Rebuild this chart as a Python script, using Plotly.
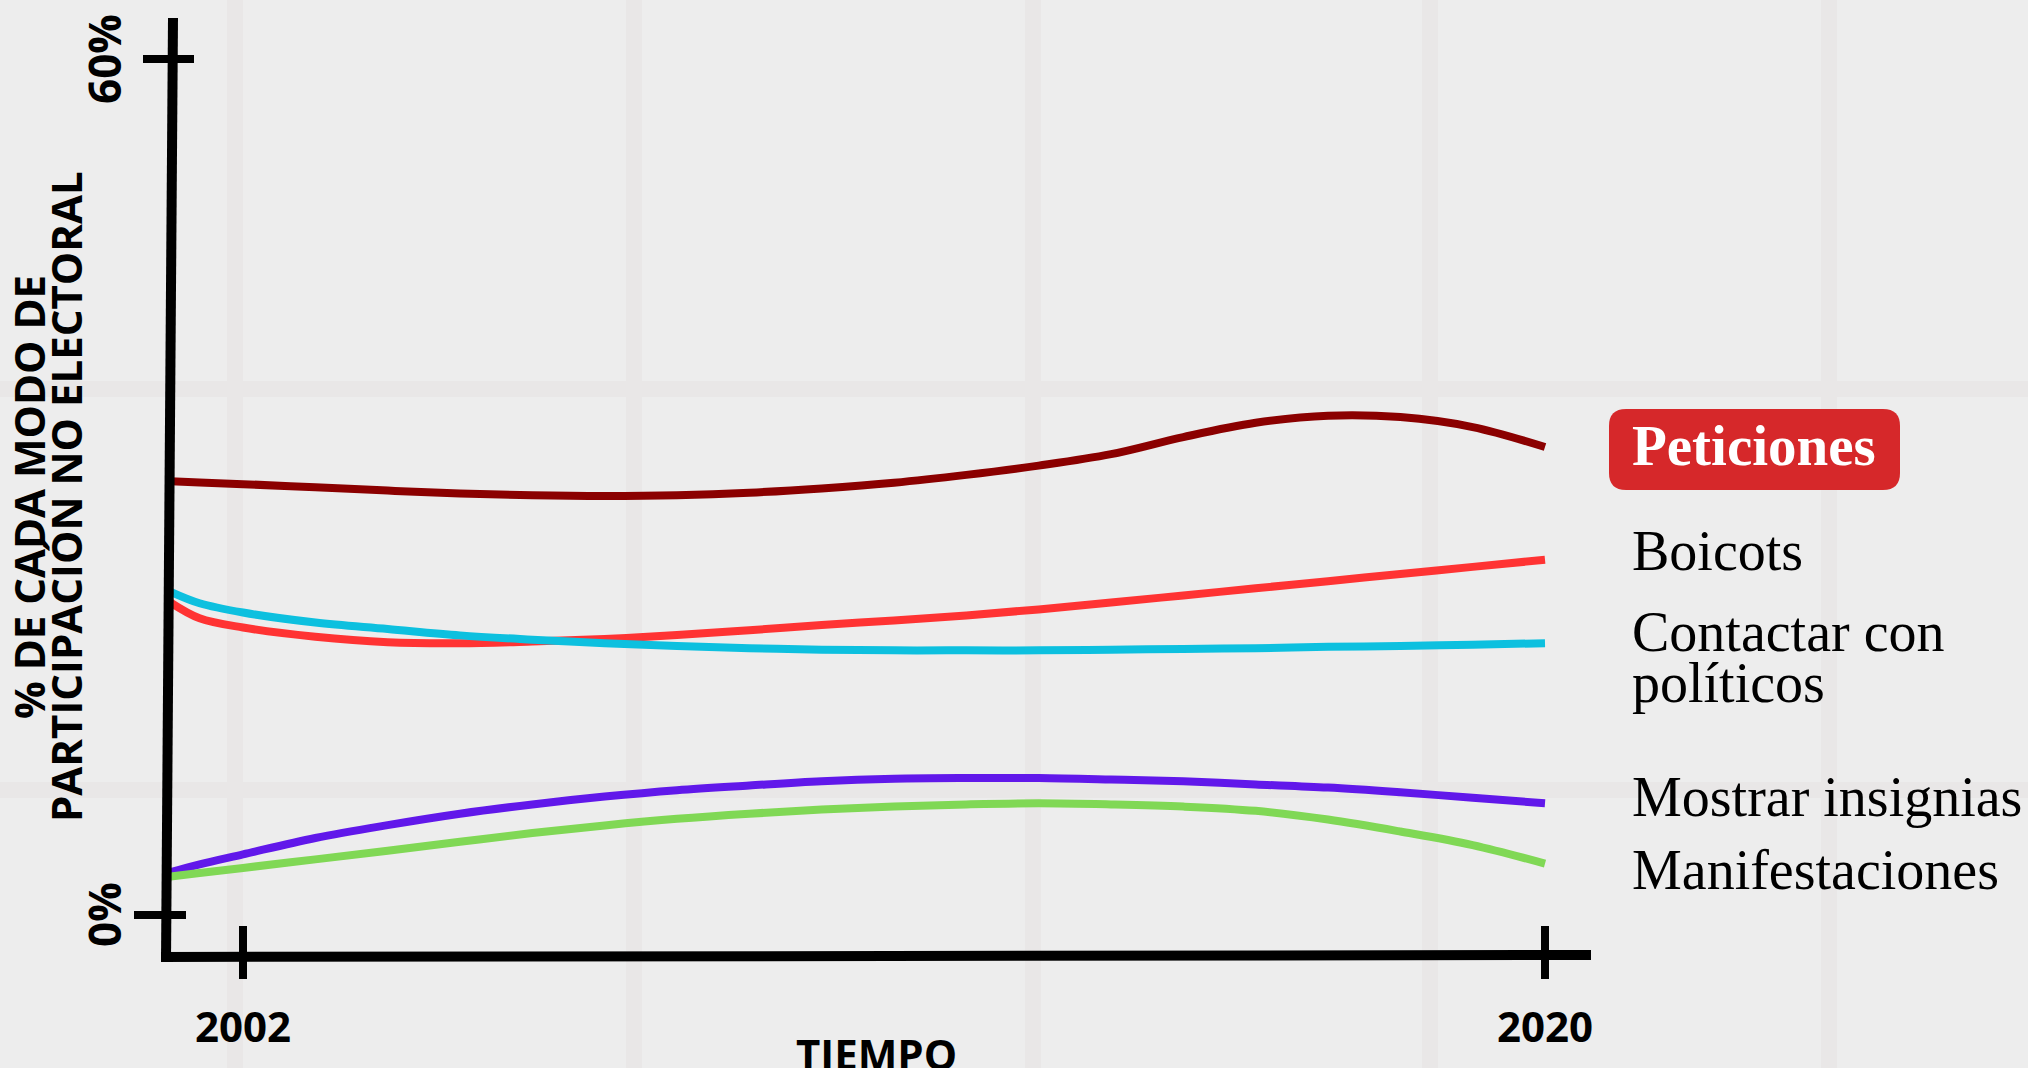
import plotly.graph_objects as go

# ---------------- data ----------------
years = [2001, 2001.4, 2002, 2003, 2004, 2005, 2006, 2007, 2008, 2009, 2010,
         2011, 2012, 2013, 2014, 2015, 2016, 2017, 2018, 2019, 2020]

peticiones = [30.4, 30.32, 30.2, 29.98, 29.75, 29.55, 29.42, 29.37, 29.42, 29.6, 29.9,
              30.3, 30.85, 31.5, 32.3, 33.5, 34.5, 35.0, 34.9, 34.2, 32.8]
boicots = [21.9, 20.8, 20.15, 19.5, 19.12, 19.05, 19.17, 19.35, 19.62, 19.96, 20.32,
           20.65, 21.0, 21.42, 21.9, 22.4, 22.9, 23.4, 23.9, 24.4, 24.9]
contactar = [22.65, 21.85, 21.2, 20.5, 20.05, 19.6, 19.3, 19.05, 18.85, 18.7, 18.6,
             18.55, 18.55, 18.55, 18.6, 18.65, 18.7, 18.8, 18.85, 18.95, 19.05]
insignias = [3.0, 3.55, 4.25, 5.4, 6.3, 7.1, 7.75, 8.3, 8.75, 9.08, 9.38,
             9.55, 9.6, 9.6, 9.5, 9.37, 9.15, 8.93, 8.6, 8.22, 7.83]
manifestaciones = [2.7, 2.95, 3.3, 3.9, 4.5, 5.13, 5.75, 6.28, 6.74, 7.1, 7.39,
                   7.6, 7.75, 7.83, 7.75, 7.6, 7.3, 6.69, 5.85, 4.9, 3.6]

series_names = ["Peticiones", "Boicots", "Contactar con\npolíticos",
                "Mostrar insignias", "Manifestaciones"]
series_values = [peticiones, boicots, contactar, insignias, manifestaciones]
series_colors = ["#8B0000", "#FF3333", "#0DC0DF", "#6118EA", "#80D855"]

x_tick_vals = [2002, 2020]
x_tick_text = ["2002", "2020"]
y_tick_vals = [0, 60]
y_tick_text = ["0%", "60%"]

y_title_lines = ["% DE CADA MODO DE", "PARTICIPACIÓN NO ELECTORAL"]
x_title = "TIEMPO"

# ---------------- layout constants (pixels) ----------------
W, H = 2028, 1068
BG = "#EDEDED"
BAND = "#E9E7E7"
SANS = "Open Sans"
SERIF = "Liberation Serif"

# pixel anchors of the hand-drawn axes
X0_PX, X1_PX = 243, 1545     # 2002, 2020
Y0_PX, Y1_PX = 915, 59       # 0 %, 60 %

xs = (x_tick_vals[1] - x_tick_vals[0]) / (X1_PX - X0_PX)
ys = (y_tick_vals[1] - y_tick_vals[0]) / (Y0_PX - Y1_PX)
x_range = [x_tick_vals[0] - X0_PX * xs, x_tick_vals[0] + (W - X0_PX) * xs]
y_range = [y_tick_vals[0] - (H - Y0_PX) * ys, y_tick_vals[0] + Y0_PX * ys]


def pxx(p):
    return p / W


def pxy(p):
    return 1 - p / H


fig = go.Figure()

for name, vals, col in zip(series_names, series_values, series_colors):
    fig.add_trace(go.Scatter(
        x=years, y=vals, mode="lines", name=name.replace("\n", " "),
        line=dict(color=col, width=8, shape="spline", smoothing=1.0),
        hoverinfo="skip", showlegend=False,
    ))

shapes = []
# background grid bands
for gx in [235, 634, 1033, 1430, 1829]:
    shapes.append(dict(type="line", xref="paper", yref="paper",
                       x0=pxx(gx), x1=pxx(gx), y0=0, y1=1,
                       line=dict(color=BAND, width=16), layer="below"))
for gy in [-8, 389, 790]:
    shapes.append(dict(type="line", xref="paper", yref="paper",
                       x0=0, x1=1, y0=pxy(gy), y1=pxy(gy),
                       line=dict(color=BAND, width=16), layer="below"))

# hand-drawn axis lines
shapes.append(dict(type="line", xref="paper", yref="paper",
                   x0=pxx(173), y0=pxy(18), x1=pxx(166), y1=pxy(962),
                   line=dict(color="black", width=10)))
shapes.append(dict(type="line", xref="paper", yref="paper",
                   x0=pxx(161), y0=pxy(957), x1=pxx(1591), y1=pxy(955),
                   line=dict(color="black", width=10)))

# cross ticks
y_tick_px = {0: (134, 186), 60: (143, 194)}
for v in y_tick_vals:
    a, b = y_tick_px[v]
    shapes.append(dict(type="line", xref="paper", yref="y",
                       x0=pxx(a), x1=pxx(b), y0=v, y1=v,
                       line=dict(color="black", width=8)))
for v in x_tick_vals:
    shapes.append(dict(type="line", xref="x", yref="paper",
                       x0=v, x1=v, y0=pxy(926), y1=pxy(979),
                       line=dict(color="black", width=8)))

# rounded red box behind "Peticiones"
bx0, bx1, by0, by1, r = 1609, 1900, 409, 490, 17


def P(x, y):
    return f"{pxx(x):.6f},{pxy(y):.6f}"


path = (f"M {P(bx0 + r, by0)} L {P(bx1 - r, by0)} Q {P(bx1, by0)} {P(bx1, by0 + r)} "
        f"L {P(bx1, by1 - r)} Q {P(bx1, by1)} {P(bx1 - r, by1)} "
        f"L {P(bx0 + r, by1)} Q {P(bx0, by1)} {P(bx0, by1 - r)} "
        f"L {P(bx0, by0 + r)} Q {P(bx0, by0)} {P(bx0 + r, by0)} Z")
shapes.append(dict(type="path", xref="paper", yref="paper", path=path,
                   fillcolor="#D6282A", line=dict(width=0), layer="below"))

annotations = []
# tick labels
for v, t in zip(x_tick_vals, x_tick_text):
    annotations.append(dict(x=v, xref="x", y=pxy(1025), yref="paper", text=t,
                            showarrow=False, xanchor="center", yanchor="middle",
                            font=dict(family=SANS, size=42, color="black", weight="bold")))
for v, t in zip(y_tick_vals, y_tick_text):
    annotations.append(dict(x=pxx(104), xref="paper", y=v, yref="y", text=t,
                            showarrow=False, xanchor="center", yanchor="middle",
                            textangle=-90,
                            font=dict(family=SANS, size=44, color="black", weight="bold")))
# axis titles
for line_txt, cx in zip(y_title_lines, [29, 66]):
    annotations.append(dict(x=pxx(cx), xref="paper", y=pxy(497), yref="paper",
                            text=line_txt, showarrow=False, textangle=-90,
                            xanchor="center", yanchor="middle",
                            font=dict(family=SANS, size=42, color="black", weight="bold")))
annotations.append(dict(x=pxx(876), xref="paper", y=pxy(1053), yref="paper",
                        text=x_title, showarrow=False, xanchor="center", yanchor="middle",
                        font=dict(family=SANS, size=42, color="black", weight="bold")))

# series labels on the right
label_centers = [[445], [551], [632, 683], [797], [870]]
for i, (name, cys) in enumerate(zip(series_names, label_centers)):
    for part, cy in zip(name.split("\n"), cys):
        if i == 0:
            fnt = dict(family=SERIF, size=57, color="white", weight="bold")
        else:
            fnt = dict(family=SERIF, size=56, color="black")
        annotations.append(dict(x=pxx(1630), xref="paper", y=pxy(cy), yref="paper",
                                text=part, showarrow=False, xanchor="left",
                                yanchor="middle", font=fnt))

fig.update_layout(
    width=W, height=H, autosize=False,
    margin=dict(l=0, r=0, t=0, b=0, pad=0),
    paper_bgcolor=BG, plot_bgcolor=BG,
    xaxis=dict(range=x_range, visible=False, fixedrange=True),
    yaxis=dict(range=y_range, visible=False, fixedrange=True),
    shapes=shapes, annotations=annotations,
    showlegend=False,
)

fig.write_html(
    "out.html",
    config={"displayModeBar": False},
    post_script="document.body.style.margin='0';document.body.style.overflow='hidden';"
                "document.body.style.background='" + BG + "';",
)
